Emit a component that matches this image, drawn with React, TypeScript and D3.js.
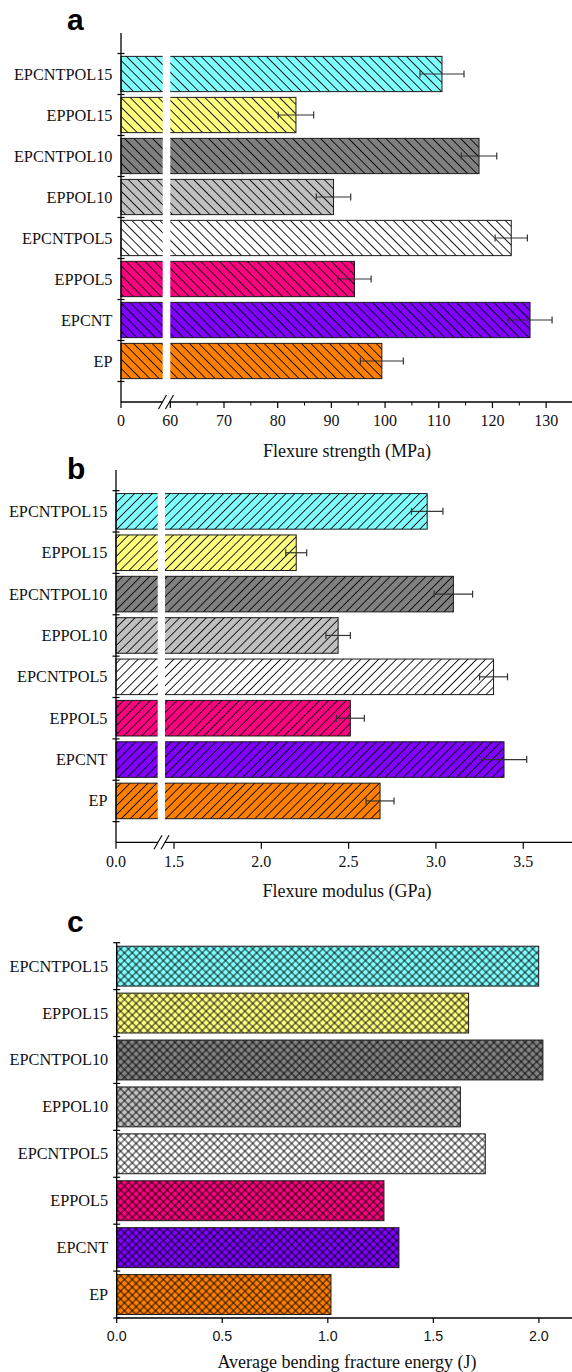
import React from "react";
import * as d3 from "d3";

// ---------- data ----------
const categories = ["EP", "EPCNT", "EPPOL5", "EPCNTPOL5", "EPPOL10", "EPCNTPOL10", "EPPOL15", "EPCNTPOL15"];
const barColors = ["#FF8000", "#8000FF", "#FF0080", "#FFFFFF", "#C0C0C0", "#808080", "#FFFF80", "#80FFFF"];

const strengthValues = [99.4, 127.0, 94.3, 123.5, 90.4, 117.5, 83.4, 110.6];
const strengthErrors = [4.0, 4.1, 3.1, 3.0, 3.2, 3.3, 3.3, 4.1];
const strengthTicks = [0, 60, 70, 80, 90, 100, 110, 120, 130];
const strengthMinorTicks = [65, 75, 85, 95, 105, 115, 125, 135];

const modulusValues = [2.68, 3.39, 2.51, 3.33, 2.44, 3.1, 2.2, 2.95];
const modulusErrors = [0.08, 0.13, 0.08, 0.08, 0.07, 0.11, 0.06, 0.09];
const modulusTicks = [0, 1.5, 2.0, 2.5, 3.0, 3.5];

const energyValues = [1.015, 1.337, 1.266, 1.746, 1.628, 2.019, 1.667, 1.999];
const energyTicks = [0, 0.5, 1.0, 1.5, 2.0];

const SERIF = "'Liberation Serif', 'Times New Roman', serif";
const SANS = "'Liberation Sans', Arial, sans-serif";

type PanelCfg = {
  key: string;
  letter: string;
  letterY: number;
  values: number[];
  errors?: number[];
  x: d3.ScaleLinear<number, number>;
  xEnd: number;
  ticks: number[];
  minorTicks?: number[];
  fmt: (v: number) => string;
  tickFont: string;
  tickSize: number;
  tickLen: number;
  axisX: number;
  axisTop: number;
  axisBottom: number;
  band: boolean;
  gap?: [number, number];
  slashes?: [number, number];
  pattern: string;
  title: string;
  titleY: number;
  tickLabelY: number;
};

function Panel({ cfg }: { cfg: PanelCfg }) {
  const { x, axisX, axisTop, axisBottom } = cfg;
  let rows: { cat: string; top: number; h: number; v: number; e?: number; color: string }[] = [];
  let boundaries: number[] = [];
  if (cfg.band) {
    const yb = d3
      .scaleBand<string>()
      .domain(categories)
      .range([axisBottom, axisTop])
      .paddingInner(0.15)
      .paddingOuter(0.075);
    rows = categories.map((c, i) => ({
      cat: c,
      top: yb(c)!,
      h: yb.bandwidth(),
      v: cfg.values[i],
      color: barColors[i],
    }));
    const step = yb.step();
    boundaries = d3.range(categories.length + 1).map((i) => axisTop + i * step);
  } else {
    const yl = d3.scaleLinear().domain([0, categories.length + 1]).range([axisBottom, axisTop]);
    const unit = Math.abs(yl(1) - yl(0));
    const h = unit * 0.86;
    rows = categories.map((c, i) => ({
      cat: c,
      top: yl(i + 1) - h / 2,
      h,
      v: cfg.values[i],
      e: cfg.errors ? cfg.errors[i] : undefined,
      color: barColors[i],
    }));
    boundaries = d3.range(categories.length + 1).map((i) => yl(i + 0.5));
  }
  const x0 = x(0);
  const firstTop = Math.min(...rows.map((r) => r.top));
  const lastBottom = Math.max(...rows.map((r) => r.top + r.h));
  return (
    <g>
      <text x={67} y={cfg.letterY} fontFamily={SANS} fontWeight="bold" fontSize={30} fill="#000">
        {cfg.letter}
      </text>
      {rows.map((r) => (
        <g key={r.cat}>
          <rect x={x0} y={r.top} width={x(r.v) - x0} height={r.h} fill={r.color} />
          <rect x={x0} y={r.top} width={x(r.v) - x0} height={r.h} fill={`url(#${cfg.pattern})`} />
          <rect
            x={x0}
            y={r.top}
            width={x(r.v) - x0}
            height={r.h}
            fill="none"
            stroke="#1a1a1a"
            strokeWidth={1}
          />
        </g>
      ))}
      {cfg.gap && (
        <rect
          x={cfg.gap[0]}
          y={firstTop - 2}
          width={cfg.gap[1] - cfg.gap[0]}
          height={lastBottom - firstTop + 4}
          fill="#fff"
        />
      )}
      {rows.map((r) =>
        r.e !== undefined ? (
          <g key={"e" + r.cat} stroke="#333" strokeWidth={1.2}>
            <line x1={x(r.v - r.e)} x2={x(r.v + r.e)} y1={r.top + r.h / 2} y2={r.top + r.h / 2} />
            <line x1={x(r.v - r.e)} x2={x(r.v - r.e)} y1={r.top + r.h / 2 - 3.5} y2={r.top + r.h / 2 + 3.5} />
            <line x1={x(r.v + r.e)} x2={x(r.v + r.e)} y1={r.top + r.h / 2 - 3.5} y2={r.top + r.h / 2 + 3.5} />
          </g>
        ) : null
      )}
      {/* y axis */}
      <line x1={axisX} x2={axisX} y1={axisTop} y2={axisBottom} stroke="#000" strokeWidth={1.3} />
      {boundaries.map((b, i) => (
        <line key={"yt" + i} x1={axisX - 3.5} x2={axisX + 3.5} y1={b} y2={b} stroke="#000" strokeWidth={1.2} />
      ))}
      {rows.map((r) => (
        <text
          key={"yl" + r.cat}
          x={axisX - 8.5}
          y={r.top + r.h / 2 + 5.5}
          textAnchor="end"
          fontFamily={SERIF}
          fontSize={16.3}
          fill="#111"
        >
          {r.cat}
        </text>
      ))}
      {/* x axis */}
      {cfg.slashes ? (
        <g stroke="#000" strokeWidth={1.3}>
          <line x1={axisX} x2={cfg.slashes[0]} y1={axisBottom} y2={axisBottom} />
          <line x1={cfg.slashes[1]} x2={cfg.xEnd} y1={axisBottom} y2={axisBottom} />
          {cfg.slashes.map((s, i) => (
            <line key={"sl" + i} x1={s - 4} x2={s + 4} y1={axisBottom + 7} y2={axisBottom - 7} strokeWidth={1.1} />
          ))}
        </g>
      ) : (
        <line x1={axisX} x2={cfg.xEnd} y1={axisBottom} y2={axisBottom} stroke="#000" strokeWidth={1.3} />
      )}
      {cfg.ticks.map((t) => (
        <g key={"xt" + t}>
          <line x1={x(t)} x2={x(t)} y1={axisBottom} y2={axisBottom + cfg.tickLen} stroke="#000" strokeWidth={1.2} />
          <text
            x={x(t)}
            y={cfg.tickLabelY}
            textAnchor="middle"
            fontFamily={cfg.tickFont}
            fontSize={cfg.tickSize}
            fill="#111"
          >
            {cfg.fmt(t)}
          </text>
        </g>
      ))}
      {(cfg.minorTicks || []).map((t) => (
        <line key={"mt" + t} x1={x(t)} x2={x(t)} y1={axisBottom} y2={axisBottom + 3.5} stroke="#000" strokeWidth={1} />
      ))}
      <text x={347} y={cfg.titleY} textAnchor="middle" fontFamily={SERIF} fontSize={18} fill="#111">
        {cfg.title}
      </text>
    </g>
  );
}

export default function App() {
  const xA = d3.scaleLinear().domain([0, 7.8, 60, 135]).range([121, 162.7, 170.3, 573]);
  const xB = d3.scaleLinear().domain([0, 0.24, 1.5, 3.8]).range([116, 157.7, 174, 575.6]);
  const xC = d3.scaleLinear().domain([0, 2]).range([116.7, 538.9]);

  const panels: PanelCfg[] = [
    {
      key: "a",
      letter: "a",
      letterY: 30,
      values: strengthValues,
      errors: strengthErrors,
      x: xA,
      xEnd: 572,
      ticks: strengthTicks,
      minorTicks: strengthMinorTicks,
      fmt: (v) => d3.format("d")(v),
      tickFont: SERIF,
      tickSize: 16,
      tickLen: 6,
      axisX: 121,
      axisTop: 33,
      axisBottom: 402,
      band: false,
      gap: [162.7, 170.3],
      slashes: [162.5, 169.5],
      pattern: "hatchBack",
      title: "Flexure strength (MPa)",
      titleY: 457,
      tickLabelY: 425.7,
    },
    {
      key: "b",
      letter: "b",
      letterY: 479,
      values: modulusValues,
      errors: modulusErrors,
      x: xB,
      xEnd: 572,
      ticks: modulusTicks,
      fmt: (v) => d3.format(".1f")(v),
      tickFont: SERIF,
      tickSize: 16,
      tickLen: 6.5,
      axisX: 116,
      axisTop: 470,
      axisBottom: 842.3,
      band: false,
      gap: [157.7, 165],
      slashes: [158, 165],
      pattern: "hatchFwd",
      title: "Flexure modulus (GPa)",
      titleY: 897,
      tickLabelY: 867,
    },
    {
      key: "c",
      letter: "c",
      letterY: 932,
      values: energyValues,
      x: xC,
      xEnd: 572,
      ticks: energyTicks,
      fmt: (v) => d3.format(".1f")(v),
      tickFont: SANS,
      tickSize: 14.2,
      tickLen: 5,
      axisX: 116.7,
      axisTop: 942.7,
      axisBottom: 1318,
      band: true,
      pattern: "crossHatch",
      title: "Average bending fracture energy (J)",
      titleY: 1368,
      tickLabelY: 1341,
    },
  ];

  return (
    <svg
      width={572}
      height={1372}
      viewBox="0 0 572 1372"
      style={{ position: "absolute", left: 0, top: 0, background: "#fff" }}
    >
      <defs>
        <pattern id="hatchBack" patternUnits="userSpaceOnUse" width={6.6} height={6.6} patternTransform="rotate(-45)">
          <line x1={3.3} x2={3.3} y1={0} y2={6.6} stroke="#000" strokeWidth={0.85} />
        </pattern>
        <pattern id="hatchFwd" patternUnits="userSpaceOnUse" width={6.3} height={6.3} patternTransform="rotate(45)">
          <line x1={3.15} x2={3.15} y1={0} y2={6.3} stroke="#000" strokeWidth={0.85} />
        </pattern>
        <pattern id="crossHatch" patternUnits="userSpaceOnUse" width={5.5} height={5.5} patternTransform="rotate(45)">
          <line x1={2.75} x2={2.75} y1={0} y2={5.5} stroke="#000" strokeWidth={0.85} />
          <line x1={0} x2={5.5} y1={2.75} y2={2.75} stroke="#000" strokeWidth={0.85} />
        </pattern>
      </defs>
      <rect x={0} y={0} width={572} height={1372} fill="#fff" />
      {panels.map((p) => (
        <Panel key={p.key} cfg={p} />
      ))}
    </svg>
  );
}
